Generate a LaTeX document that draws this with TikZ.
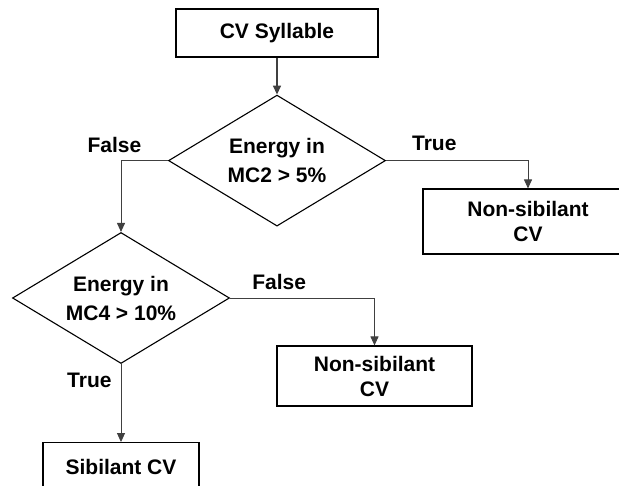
\documentclass[tikz,border=0pt]{standalone}
\usepackage{fontspec}
\setmainfont{Liberation Sans}
\usetikzlibrary{positioning, shapes.geometric, arrows.meta}

\begin{document}
\begin{tikzpicture}[
    x=1pt, y=-1pt,
    every node/.style={font=\bfseries\fontsize{21}{25}\selectfont},
    process/.style={rectangle, draw, line width=1.1pt, align=center, inner sep=2pt},
    decision/.style={diamond, draw, line width=1.1pt, align=center, inner sep=0pt, aspect=1.66,
        minimum width=217pt, minimum height=131pt, font=\bfseries\fontsize{21}{29}\selectfont},
    branch/.style={draw=black!75, line width=0.9pt, -{Triangle[length=9pt, width=8pt]}},
    lbl/.style={inner sep=0pt, anchor=base}
]

% Page frame
\useasboundingbox (0,0) rectangle (619,486);
\clip (0,0) rectangle (619,486);

% Start box
\node[process, minimum width=202pt, minimum height=48pt] (syll) at (277,33) {CV Syllable};

% First test
\node[decision, below=37pt of syll] (mc2) {Energy in\\MC2 > 5\%};
\node[process, minimum width=210pt, minimum height=65pt] (nonsib1) at (528,221.5) {Non-sibilant\\CV};

% Second test
\node[decision] (mc4) at (121,298) {Energy in\\MC4 > 10\%};
\node[process, minimum width=195pt, minimum height=60pt] (nonsib2) at (374.5,376) {Non-sibilant\\CV};
\node[process, minimum width=156pt, minimum height=48pt, below=78pt of mc4] (sib) {Sibilant CV};

% Edges and labels
\draw[branch, line width=1.6pt] (syll) -- (mc2);
\draw[branch] (mc2.west) -| node[lbl, pos=0.5, xshift=-6.5pt, yshift=8pt] {False} (mc4);
\draw[branch] (mc2.east) -| node[lbl, pos=0.17, yshift=10pt] {True} (nonsib1);
\draw[branch] (mc4.east) -| node[lbl, pos=0.17, yshift=8pt] {False} (nonsib2);
\draw[branch] (mc4) -- node[lbl, anchor=base east, pos=0.3, xshift=-9pt] {True} (sib);

\end{tikzpicture}
\end{document}
